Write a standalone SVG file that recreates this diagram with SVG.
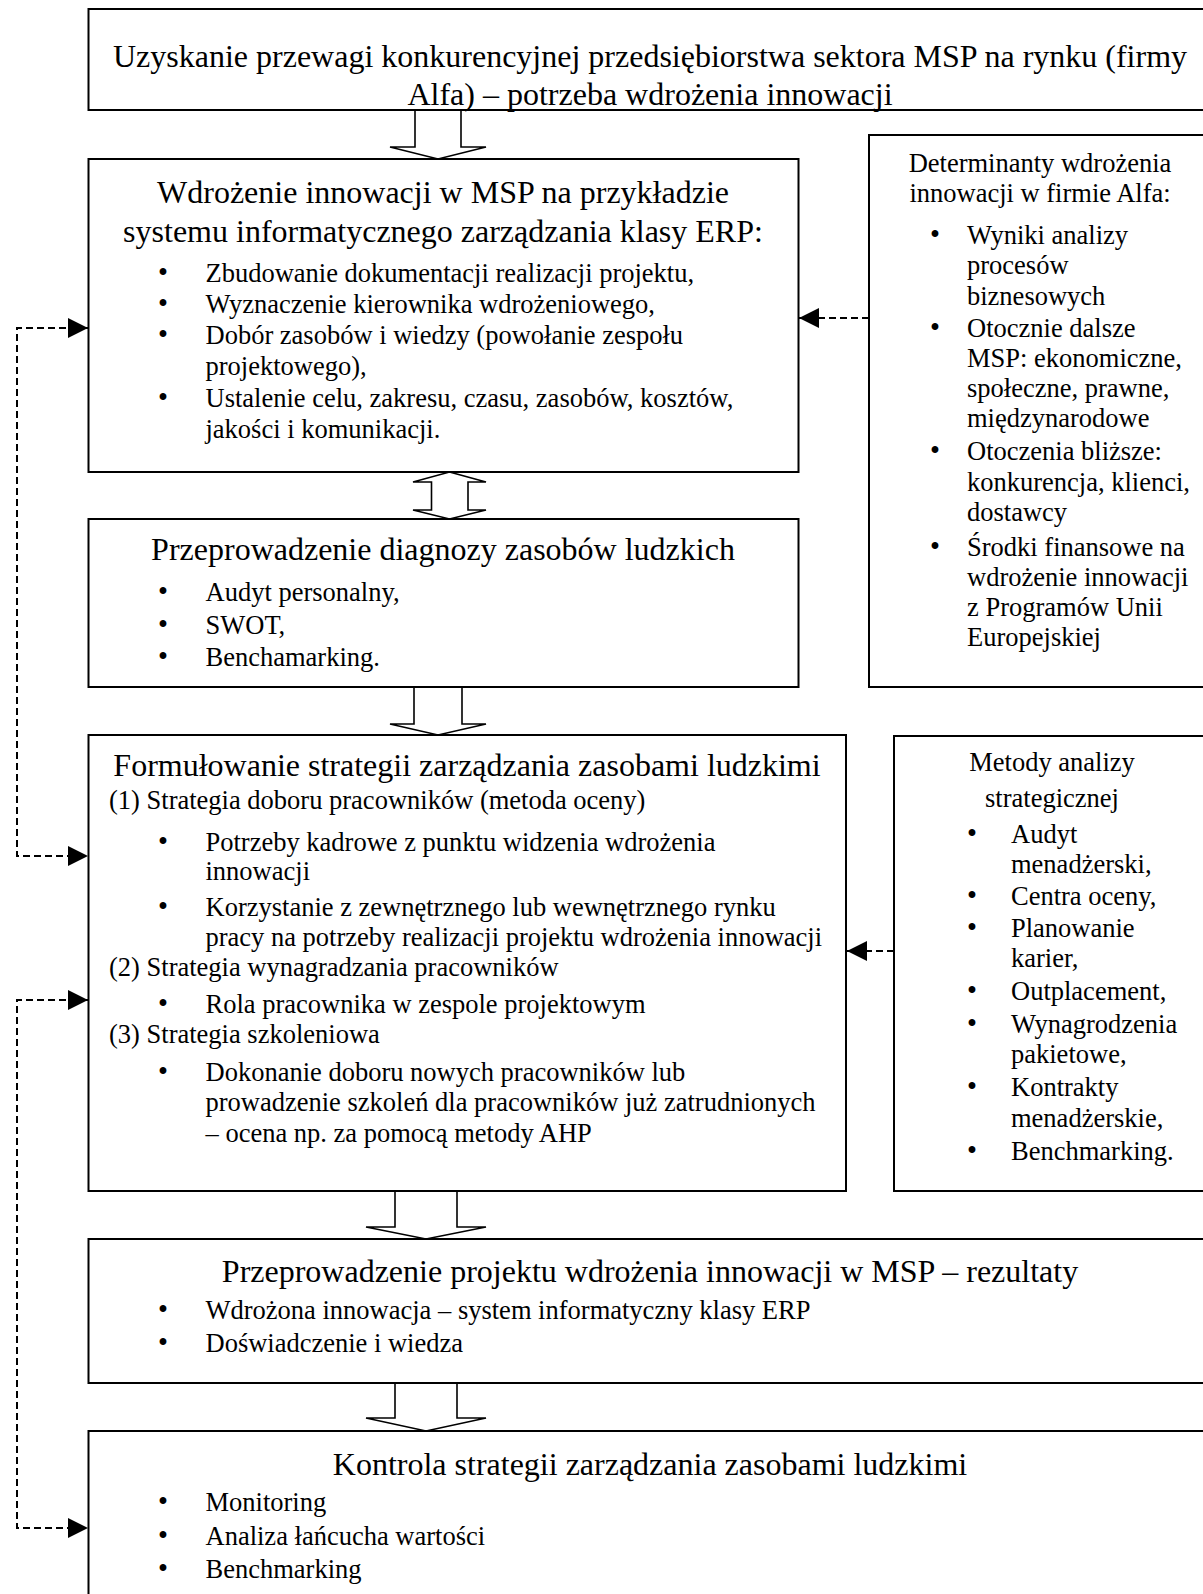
<svg xmlns="http://www.w3.org/2000/svg" width="1203" height="1594" viewBox="0 0 1203 1594">
<defs>
<style>
.box{fill:#fff;stroke:#000;stroke-width:2}
.blk{fill:#fff;stroke:#000;stroke-width:1.6;stroke-linejoin:miter}
.dash{fill:none;stroke:#000;stroke-width:2;stroke-dasharray:7 4}
text{font-family:"Liberation Serif","Times New Roman",serif;fill:#000}
.h{font-size:32px}
.t{font-size:26.5px}
.b{font-size:28.5px}
.c{text-anchor:middle}
</style>
<marker id="ah" viewBox="0 0 20 20" refX="20" refY="10" markerWidth="20" markerHeight="20" markerUnits="userSpaceOnUse" orient="auto-start-reverse">
<path d="M0,0 L20,10 L0,20 z" fill="#000"/>
</marker>
</defs>
<rect width="1203" height="1594" fill="#fff"/>

<g id="connectors">
<polygon class="blk" points="415,110 461,110 461,147 486,147 438,159 390,147 415,147 415,110"/>
<polygon class="blk" points="449.5,472 486,482 468,482 468,510 486,510 449.5,519 413,510 431.5,510 431.5,482 413,482"/>
<polygon class="blk" points="414,687 462,687 462,724 486,724 438,735 390,724 414,724"/>
<polygon class="blk" points="395,1191 457,1191 457,1227 486,1227 426,1239 366,1227 395,1227"/>
<polygon class="blk" points="395,1383 457,1383 457,1418 486,1418 426,1431 366,1418 395,1418"/>
<path class="dash" d="M88,328 H17 V856 H88" marker-start="url(#ah)" marker-end="url(#ah)"/>
<path class="dash" d="M88,1000 H17 V1528 H88" marker-start="url(#ah)" marker-end="url(#ah)"/>
<path class="dash" d="M869,318 H799" marker-end="url(#ah)"/>
<path class="dash" d="M894,951 H847" marker-end="url(#ah)"/>
</g>

<g id="node-goal">
<rect class="box" x="88.5" y="9" width="1130" height="101"/>
<text class="h c" x="650" y="67">Uzyskanie przewagi konkurencyjnej przedsiębiorstwa sektora MSP na rynku (firmy</text>
<text class="h c" x="650" y="105">Alfa) – potrzeba wdrożenia innowacji</text>
</g>

<g id="node-erp">
<rect class="box" x="88.5" y="159" width="710" height="313"/>
<text class="h c" x="443" y="203">Wdrożenie innowacji w MSP na przykładzie</text>
<text class="h c" x="443" y="242">systemu informatycznego zarządzania klasy ERP:</text>
<text class="t" y="282"><tspan class="b" x="158">•</tspan><tspan x="205.5">Zbudowanie dokumentacji realizacji projektu,</tspan></text>
<text class="t" y="313"><tspan class="b" x="158">•</tspan><tspan x="205.5">Wyznaczenie kierownika wdrożeniowego,</tspan></text>
<text class="t" y="344"><tspan class="b" x="158">•</tspan><tspan x="205.5">Dobór zasobów i wiedzy (powołanie zespołu</tspan></text>
<text class="t" x="205.5" y="375">projektowego),</text>
<text class="t" y="407"><tspan class="b" x="158">•</tspan><tspan x="205.5">Ustalenie celu, zakresu, czasu, zasobów, kosztów,</tspan></text>
<text class="t" x="205.5" y="438">jakości i komunikacji.</text>
</g>

<g id="node-diagnoza">
<rect class="box" x="88.5" y="519" width="710" height="168"/>
<text class="h c" x="443" y="560">Przeprowadzenie diagnozy zasobów ludzkich</text>
<text class="t" y="601"><tspan class="b" x="158">•</tspan><tspan x="205.5">Audyt personalny,</tspan></text>
<text class="t" y="634"><tspan class="b" x="158">•</tspan><tspan x="205.5">SWOT,</tspan></text>
<text class="t" y="666"><tspan class="b" x="158">•</tspan><tspan x="205.5">Benchamarking.</tspan></text>
</g>

<g id="node-determinanty">
<rect class="box" x="869" y="135" width="345" height="552"/>
<text class="t c" x="1040" y="172">Determinanty wdrożenia</text>
<text class="t c" x="1040" y="202">innowacji w firmie Alfa:</text>
<text class="t" y="244"><tspan class="b" x="930">•</tspan><tspan x="967">Wyniki analizy</tspan></text>
<text class="t" x="967" y="274">procesów</text>
<text class="t" x="967" y="305">biznesowych</text>
<text class="t" y="337"><tspan class="b" x="930">•</tspan><tspan x="967">Otocznie dalsze</tspan></text>
<text class="t" x="967" y="367">MSP: ekonomiczne,</text>
<text class="t" x="967" y="397">społeczne, prawne,</text>
<text class="t" x="967" y="427">międzynarodowe</text>
<text class="t" y="460"><tspan class="b" x="930">•</tspan><tspan x="967">Otoczenia bliższe:</tspan></text>
<text class="t" x="967" y="491">konkurencja, klienci,</text>
<text class="t" x="967" y="521">dostawcy</text>
<text class="t" y="556"><tspan class="b" x="930">•</tspan><tspan x="967">Środki finansowe na</tspan></text>
<text class="t" x="967" y="586">wdrożenie innowacji</text>
<text class="t" x="967" y="616">z Programów Unii</text>
<text class="t" x="967" y="646">Europejskiej</text>
</g>

<g id="node-strategia">
<rect class="box" x="88.5" y="735" width="757.5" height="456"/>
<text class="h c" x="467" y="776">Formułowanie strategii zarządzania zasobami ludzkimi</text>
<text class="t" x="109" y="809">(1) Strategia doboru pracowników (metoda oceny)</text>
<text class="t" y="851"><tspan class="b" x="158">•</tspan><tspan x="205.5">Potrzeby kadrowe z punktu widzenia wdrożenia</tspan></text>
<text class="t" x="205.5" y="880">innowacji</text>
<text class="t" y="916"><tspan class="b" x="158">•</tspan><tspan x="205.5">Korzystanie z zewnętrznego lub wewnętrznego rynku</tspan></text>
<text class="t" x="205.5" y="946">pracy na potrzeby realizacji projektu wdrożenia innowacji</text>
<text class="t" x="109" y="976">(2) Strategia wynagradzania pracowników</text>
<text class="t" y="1013"><tspan class="b" x="158">•</tspan><tspan x="205.5">Rola pracownika w zespole projektowym</tspan></text>
<text class="t" x="109" y="1043">(3) Strategia szkoleniowa</text>
<text class="t" y="1081"><tspan class="b" x="158">•</tspan><tspan x="205.5">Dokonanie doboru nowych pracowników lub</tspan></text>
<text class="t" x="205.5" y="1111">prowadzenie szkoleń dla pracowników już zatrudnionych</text>
<text class="t" x="205.5" y="1142">– ocena np. za pomocą metody AHP</text>
</g>

<g id="node-metody">
<rect class="box" x="894" y="736" width="320" height="455"/>
<text class="t c" x="1052" y="771">Metody analizy</text>
<text class="t c" x="1052" y="807">strategicznej</text>
<text class="t" y="843"><tspan class="b" x="967">•</tspan><tspan x="1011">Audyt</tspan></text>
<text class="t" x="1011" y="873">menadżerski,</text>
<text class="t" y="905"><tspan class="b" x="967">•</tspan><tspan x="1011">Centra oceny,</tspan></text>
<text class="t" y="937"><tspan class="b" x="967">•</tspan><tspan x="1011">Planowanie</tspan></text>
<text class="t" x="1011" y="967">karier,</text>
<text class="t" y="1000"><tspan class="b" x="967">•</tspan><tspan x="1011">Outplacement,</tspan></text>
<text class="t" y="1033"><tspan class="b" x="967">•</tspan><tspan x="1011">Wynagrodzenia</tspan></text>
<text class="t" x="1011" y="1063">pakietowe,</text>
<text class="t" y="1096"><tspan class="b" x="967">•</tspan><tspan x="1011">Kontrakty</tspan></text>
<text class="t" x="1011" y="1127">menadżerskie,</text>
<text class="t" y="1160"><tspan class="b" x="967">•</tspan><tspan x="1011">Benchmarking.</tspan></text>
</g>

<g id="node-rezultaty">
<rect class="box" x="88.5" y="1239" width="1130" height="144"/>
<text class="h c" x="650" y="1282">Przeprowadzenie projektu wdrożenia innowacji w MSP – rezultaty</text>
<text class="t" y="1319"><tspan class="b" x="158">•</tspan><tspan x="205.5">Wdrożona innowacja – system informatyczny klasy ERP</tspan></text>
<text class="t" y="1352"><tspan class="b" x="158">•</tspan><tspan x="205.5">Doświadczenie i wiedza</tspan></text>
</g>

<g id="node-kontrola">
<rect class="box" x="88.5" y="1431" width="1130" height="200"/>
<text class="h c" x="650" y="1475">Kontrola strategii zarządzania zasobami ludzkimi</text>
<text class="t" y="1511"><tspan class="b" x="158">•</tspan><tspan x="205.5">Monitoring</tspan></text>
<text class="t" y="1545"><tspan class="b" x="158">•</tspan><tspan x="205.5">Analiza łańcucha wartości</tspan></text>
<text class="t" y="1578"><tspan class="b" x="158">•</tspan><tspan x="205.5">Benchmarking</tspan></text>
</g>
</svg>
